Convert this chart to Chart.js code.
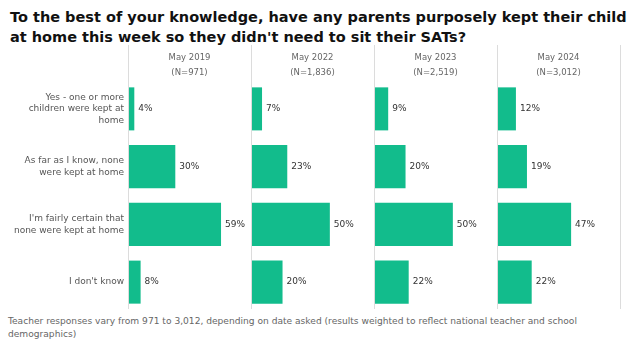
<!DOCTYPE html>
<html>
<head>
<meta charset="utf-8">
<script src="https://cdn.jsdelivr.net/npm/chart.js@4.4.1/dist/chart.umd.min.js"></script>
<style>
  body { margin: 0; width: 630px; height: 349px; background: #fff; position: relative; overflow: hidden; font-family: "DejaVu Sans", sans-serif; }
  #title { position: absolute; left: 10px; top: 7px; width: 620px; font-weight: bold; font-size: 14.5px; line-height: 20px; color: #111; }
  #note { position: absolute; left: 8px; top: 315px; width: 610px; font-size: 9.1px; line-height: 13px; color: #666; }
  canvas { position: absolute; top: 45px; }
</style>
</head>
<body>
<div id="title">To the best of your knowledge, have any parents purposely kept their child at home this week so they didn't need to sit their SATs?</div>
<canvas id="c0" width="251" height="266" style="left:0"></canvas>
<canvas id="c1" width="123" height="266" style="left:251px"></canvas>
<canvas id="c2" width="123" height="266" style="left:374px"></canvas>
<canvas id="c3" width="133" height="266" style="left:497px"></canvas>
<div id="note">Teacher responses vary from 971 to 3,012, depending on date asked (results weighted to reflect national teacher and school demographics)</div>
<script>
const categories = [
    [ 'Yes - one or more', 'children were kept at', 'home' ],
    [ 'As far as I know, none', 'were kept at home' ],
    [ "I'm fairly certain that", 'none were kept at home' ],
    [ "I don't know" ]
];
const periods = [ 'May 2019', 'May 2022', 'May 2023', 'May 2024' ];
const sampleSizes = [ '(N=971)', '(N=1,836)', '(N=2,519)', '(N=3,012)' ];
const may2019 = [ 4, 30, 59, 8 ];
const may2022 = [ 7, 23, 50, 20 ];
const may2023 = [ 9, 20, 50, 22 ];
const may2024 = [ 12, 19, 47, 22 ];
const series = [ may2019, may2022, may2023, may2024 ];

const barColor = '#12bc8c';
const lineColor = '#dcdcdc';

// separators, column headers and value labels
const panelPlugin = {
    id: 'panelPlugin',
    afterDatasetsDraw( chart, args, opts )
    {
        const c = chart.ctx;
        const area = chart.chartArea;
        c.save();
        c.strokeStyle = lineColor;
        c.lineWidth = 1;
        c.beginPath();
        c.moveTo( Math.round( area.left ) + 0.5, 0 );
        c.lineTo( Math.round( area.left ) + 0.5, area.bottom - 2 );
        if ( opts.right )
        {
            c.moveTo( Math.round( area.right ) + 0.5, 0 );
            c.lineTo( Math.round( area.right ) + 0.5, area.bottom - 2 );
        }
        c.stroke();

        // header
        c.fillStyle = '#666';
        c.font = '8.5px "DejaVu Sans"';
        c.textAlign = 'center';
        c.textBaseline = 'middle';
        const cx = ( area.left + area.right ) / 2;
        c.fillText( opts.header[ 0 ], cx, 13 );
        c.fillText( opts.header[ 1 ], cx, 28 );

        c.fillStyle = '#333';
        c.font = '9px "DejaVu Sans"';
        c.textAlign = 'left';
        const meta = chart.getDatasetMeta( 0 );
        meta.data.forEach( ( bar, i ) =>
        {
            c.fillText( chart.data.datasets[ 0 ].data[ i ] + '%', bar.x + 4, bar.y );
        } );
        c.restore();
    }
};

series.forEach( ( values, p ) =>
{
    const first = p === 0;
    const last = p === series.length - 1;
    new Chart( document.getElementById( 'c' + p ), {
        type: 'bar',
        data: {
            labels: categories,
            datasets: [ {
                data: values,
                backgroundColor: barColor,
                borderWidth: 0,
                barPercentage: 0.745,
                categoryPercentage: 1
            } ]
        },
        options: {
            indexAxis: 'y',
            responsive: false,
            animation: false,
            layout: { padding: { left: 0, right: last ? 10 : 0, top: 35, bottom: 0 } },
            scales: {
                x: {
                    display: false,
                    min: 0,
                    max: 78
                },
                y: {
                    display: first,
                    grid: { display: false, drawTicks: false },
                    border: { display: false },
                    ticks: {
                        color: '#555',
                        padding: 4,
                        font: { family: 'DejaVu Sans', size: 9, lineHeight: 1.3 }
                    },
                    afterFit( scale )
                    {
                        if ( first ) scale.width = 128;
                        scale.paddingTop = 0;
                        scale.paddingBottom = 0;
                    }
                }
            },
            plugins: {
                legend: { display: false },
                tooltip: { enabled: false },
                title: { display: false },
                panelPlugin: { right: last, header: [ periods[ p ], sampleSizes[ p ] ] }
            }
        },
        plugins: [ panelPlugin ]
    } );
} );
</script>
</body>
</html>
